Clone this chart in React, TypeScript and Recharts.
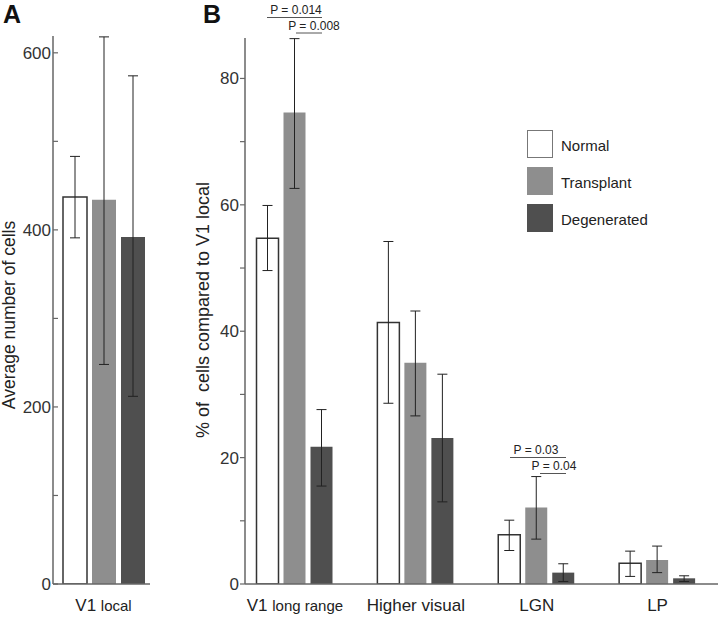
import { BarChart, Bar, XAxis, YAxis, ErrorBar } from 'recharts';

const seriesNames = ['Normal', 'Transplant', 'Degenerated'];
const COLORS = ['#ffffff', '#8e8e8e', '#4f4f4f'];
const STROKES = ['#333333', 'none', 'none'];

// panel A
const catsA = ['V1 local'];
const normalA = [437];
const transplantA = [434];
const degeneratedA = [392];
const normalLoA = [391];
const normalHiA = [483];
const transplantLoA = [248];
const transplantHiA = [618];
const degeneratedLoA = [212];
const degeneratedHiA = [574];
const ticksA = [0, 100, 200, 300, 400, 500, 600];

// panel B
const catsB = ['V1 long range', 'Higher visual', 'LGN', 'LP'];
const normalB = [54.7, 41.4, 7.8, 3.3];
const transplantB = [74.6, 35.0, 12.1, 3.8];
const degeneratedB = [21.7, 23.1, 1.8, 0.9];
const normalLoB = [49.6, 28.6, 5.3, 1.2];
const normalHiB = [59.9, 54.2, 10.1, 5.2];
const transplantLoB = [62.6, 26.6, 7.1, 1.8];
const transplantHiB = [86.3, 43.2, 17.0, 6.0];
const degeneratedLoB = [15.5, 13.0, 0.4, 0.4];
const degeneratedHiB = [27.6, 33.2, 3.2, 1.3];
const ticksB = [0, 10, 20, 30, 40, 50, 60, 70, 80];

const FONT = 'Arial, "Liberation Sans", Helvetica, sans-serif';
const AXIS = '#666666';

const dataA = catsA.map((c, i) => ({
    cat: c,
    normal: normalA[i],
    transplant: transplantA[i],
    degenerated: degeneratedA[i],
    normalErr: [normalA[i] - normalLoA[i], normalHiA[i] - normalA[i]],
    transplantErr: [transplantA[i] - transplantLoA[i], transplantHiA[i] - transplantA[i]],
    degeneratedErr: [degeneratedA[i] - degeneratedLoA[i], degeneratedHiA[i] - degeneratedA[i]],
}));

const dataB = catsB.map((c, i) => ({
    cat: c,
    normal: normalB[i],
    transplant: transplantB[i],
    degenerated: degeneratedB[i],
    normalErr: [normalB[i] - normalLoB[i], normalHiB[i] - normalB[i]],
    transplantErr: [transplantB[i] - transplantLoB[i], transplantHiB[i] - transplantB[i]],
    degeneratedErr: [degeneratedB[i] - degeneratedLoB[i], degeneratedHiB[i] - degeneratedB[i]],
}));

const keys = ['normal', 'transplant', 'degenerated'];

const TickA = (props: any) => {
    const { x, y, payload } = props;
    const major = payload.value % 200 === 0;
    return (
        <g>
            <line x1={x} x2={x + 5} y1={y} y2={y} stroke={AXIS} strokeWidth={1.2} />
            {major && (
                <text x={x - 2} y={y} dy={6} textAnchor="end" fontSize={17} fill="#333" fontFamily={FONT}>
                    {payload.value}
                </text>
            )}
        </g>
    );
};

const TickB = (props: any) => {
    const { x, y, payload } = props;
    const major = payload.value % 20 === 0;
    return (
        <g>
            <line x1={x - 5} x2={x} y1={y} y2={y} stroke={AXIS} strokeWidth={1.2} />
            {major && (
                <text x={x - 6} y={y} dy={6} textAnchor="end" fontSize={17} fill="#333" fontFamily={FONT}>
                    {payload.value}
                </text>
            )}
        </g>
    );
};

const CatTick = (props: any) => {
    const { x, y, payload } = props;
    const v: string = payload.value;
    const parts = v.startsWith('V1 ') ? ['V1 ', v.slice(3)] : [v, ''];
    return (
        <text x={x} y={y + 27} textAnchor="middle" fill="#222" fontFamily={FONT}>
            <tspan fontSize={17}>{parts[0]}</tspan>
            {parts[1] && <tspan fontSize={15}>{parts[1]}</tspan>}
        </text>
    );
};

const LegendBox = () => (
    <div style={{ position: 'absolute', left: 527, top: 130, fontFamily: FONT }}>
        {seriesNames.map((n, i) => (
            <div key={n} style={{ display: 'flex', alignItems: 'flex-start', height: 37 }}>
                <div
                    style={{
                        boxSizing: 'border-box',
                        width: 26,
                        height: 28,
                        background: COLORS[i],
                        border: i === 0 ? '1.5px solid #777' : `1.5px solid ${COLORS[i]}`,
                    }}
                />
                <span style={{ marginLeft: 8, marginTop: 7, fontSize: 15, lineHeight: '17px', color: '#222' }}>{n}</span>
            </div>
        ))}
    </div>
);

const bars = () =>
    keys.map((k, i) => (
        <Bar
            key={k}
            dataKey={k}
            fill={COLORS[i]}
            stroke={STROKES[i]}
            strokeWidth={1.5}
            isAnimationActive={false}
        >
            <ErrorBar dataKey={`${k}Err`} width={5} stroke="#222" strokeWidth={1} />
        </Bar>
    ));

const App = () => {
    return (
        <div style={{ position: 'absolute', left: 0, top: 0, width: 720, height: 620, background: '#fff', fontFamily: FONT }}>
            <div style={{ position: 'absolute', left: 0, top: 0 }}>
                <BarChart width={160} height={620} data={dataA} margin={{ top: 36, right: 10, bottom: 0, left: 0 }} barGap={5} barSize={24}>
                    <XAxis dataKey="cat" height={36} axisLine={{ stroke: AXIS, strokeWidth: 1.5 }} tickLine={false} tickSize={0} tickMargin={0} tick={<CatTick />} padding={{ left: 4, right: 0 }} />
                    <YAxis width={53} domain={[0, 619]} ticks={ticksA} interval={0} allowDataOverflow axisLine={{ stroke: AXIS, strokeWidth: 1.5 }} tickLine={false} tickSize={0} tickMargin={0} tick={<TickA />} />
                    {bars()}
                </BarChart>
            </div>
            <div style={{ position: 'absolute', left: 190, top: 0 }}>
                <BarChart width={530} height={620} data={dataB} margin={{ top: 38, right: 2, bottom: 0, left: 0 }} barGap={5} barSize={22}>
                    <XAxis dataKey="cat" height={36} axisLine={{ stroke: AXIS, strokeWidth: 1.5 }} tickLine={false} tickSize={0} tickMargin={0} tick={<CatTick />} padding={{ left: -10.5, right: 0 }} />
                    <YAxis width={55} domain={[0, 86.4]} ticks={ticksB} interval={0} allowDataOverflow axisLine={{ stroke: AXIS, strokeWidth: 1.5 }} tickLine={false} tickSize={0} tickMargin={0} tick={<TickB />} />
                    {bars()}
                </BarChart>
            </div>
            <LegendBox />
            <svg width={720} height={620} style={{ position: 'absolute', left: 0, top: 0, pointerEvents: 'none' }} fontFamily={FONT}>
                <text x={3} y={23} fontSize={25} fontWeight="bold" fill="#111">A</text>
                <text x={203} y={23} fontSize={25} fontWeight="bold" fill="#111">B</text>
                <text transform="translate(15,315) rotate(-90)" textAnchor="middle" fontSize={17.5} fill="#222">Average number of cells</text>
                <text transform="translate(209,310) rotate(-90)" textAnchor="middle" fontSize={18} fill="#222" style={{ whiteSpace: 'pre' }}>% of  cells compared to V1 local</text>
                <g fontSize={12} fill="#222" textAnchor="middle">
                    <text x={296} y={14}>P = 0.014</text>
                    <line x1={267} x2={322} y1={17.5} y2={17.5} stroke="#555" strokeWidth={1} />
                    <text x={314} y={30}>P = 0.008</text>
                    <line x1={296} x2={322} y1={33} y2={33} stroke="#555" strokeWidth={1} />
                    <text x={536} y={454}>P = 0.03</text>
                    <line x1={510} x2={566} y1={457.5} y2={457.5} stroke="#555" strokeWidth={1} />
                    <text x={554} y={470}>P = 0.04</text>
                    <line x1={540} x2={566} y1={473.5} y2={473.5} stroke="#555" strokeWidth={1} />
                </g>
            </svg>
        </div>
    );
};

export default App;
